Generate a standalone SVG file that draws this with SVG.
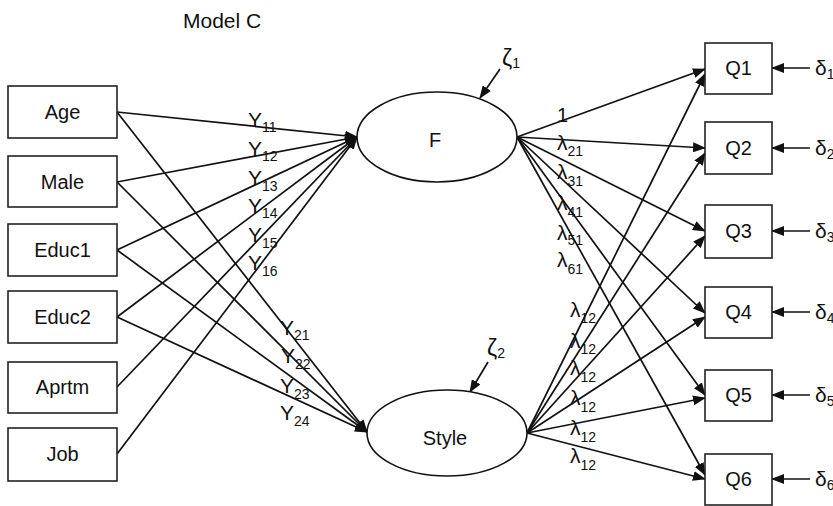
<svg xmlns="http://www.w3.org/2000/svg" width="833" height="506" viewBox="0 0 833 506">
<style>
text{font-family:"Liberation Sans",Arial,sans-serif;font-size:20px;fill:#111}
.box{fill:#fff;stroke:#222;stroke-width:1.6}
.ell{fill:#fff;stroke:#111;stroke-width:1.6}
.c line{stroke:#111;stroke-width:1.7;marker-end:url(#ah)}
.s{font-size:14px}
.lbl{font-size:21px}
.z{font-size:23px}
</style>
<defs>
<marker id="ah" markerUnits="userSpaceOnUse" markerWidth="13" markerHeight="10" refX="12" refY="5" orient="auto">
<path d="M0,0 L13,5 L0,10 Z" fill="#111"/>
</marker>
</defs>
<text x="183" y="28" style="font-size:21px">Model C</text>

<g class="c" id="connectors">
<line x1="117" y1="112" x2="357" y2="137"/>
<line x1="117" y1="182" x2="357" y2="137"/>
<line x1="117" y1="250" x2="357" y2="137"/>
<line x1="117" y1="317" x2="357" y2="137"/>
<line x1="117" y1="387" x2="357" y2="137"/>
<line x1="117" y1="454" x2="357" y2="137"/>
<line x1="117" y1="112" x2="367" y2="432"/>
<line x1="117" y1="182" x2="367" y2="432"/>
<line x1="117" y1="250" x2="367" y2="432"/>
<line x1="117" y1="317" x2="367" y2="432"/>
<line x1="517" y1="137" x2="705" y2="69"/>
<line x1="517" y1="137" x2="705" y2="148"/>
<line x1="517" y1="137" x2="705" y2="231"/>
<line x1="517" y1="137" x2="705" y2="313"/>
<line x1="517" y1="137" x2="705" y2="395"/>
<line x1="517" y1="137" x2="705" y2="475"/>
<line x1="527" y1="433" x2="705" y2="74"/>
<line x1="527" y1="433" x2="705" y2="153"/>
<line x1="527" y1="433" x2="705" y2="236"/>
<line x1="527" y1="433" x2="705" y2="317"/>
<line x1="527" y1="433" x2="705" y2="398"/>
<line x1="527" y1="433" x2="705" y2="479"/>
<line x1="500" y1="69" x2="480" y2="98"/>
<line x1="488" y1="362" x2="470" y2="392"/>
<line x1="810" y1="68" x2="772" y2="68"/>
<line x1="810" y1="148" x2="772" y2="148"/>
<line x1="810" y1="231" x2="772" y2="231"/>
<line x1="810" y1="312" x2="772" y2="312"/>
<line x1="810" y1="395" x2="772" y2="395"/>
<line x1="810" y1="479" x2="772" y2="479"/>
</g>

<g id="Age"><rect class="box" x="8" y="86" width="109" height="52"/><text x="62.5" y="119" text-anchor="middle">Age</text></g>
<g id="Male"><rect class="box" x="8" y="156" width="109" height="51"/><text x="62.5" y="189" text-anchor="middle">Male</text></g>
<g id="Educ1"><rect class="box" x="8" y="224" width="109" height="52"/><text x="62.5" y="257" text-anchor="middle">Educ1</text></g>
<g id="Educ2"><rect class="box" x="8" y="291" width="109" height="52"/><text x="62.5" y="324" text-anchor="middle">Educ2</text></g>
<g id="Aprtm"><rect class="box" x="8" y="362" width="109" height="51"/><text x="62.5" y="394" text-anchor="middle">Aprtm</text></g>
<g id="Job"><rect class="box" x="8" y="428" width="109" height="53"/><text x="62.5" y="461" text-anchor="middle">Job</text></g>

<g id="F"><ellipse class="ell" cx="437" cy="137" rx="80" ry="45"/><text x="435" y="147" text-anchor="middle">F</text></g>
<g id="Style"><ellipse class="ell" cx="447" cy="433" rx="80" ry="43"/><text x="445" y="445" text-anchor="middle">Style</text></g>

<g id="Q1"><rect class="box" x="705" y="43" width="67" height="51"/><text x="738.5" y="75" text-anchor="middle">Q1</text></g>
<g id="Q2"><rect class="box" x="705" y="122" width="67" height="52"/><text x="738.5" y="155" text-anchor="middle">Q2</text></g>
<g id="Q3"><rect class="box" x="705" y="205" width="67" height="53"/><text x="738.5" y="238" text-anchor="middle">Q3</text></g>
<g id="Q4"><rect class="box" x="705" y="287" width="67" height="51"/><text x="738.5" y="319" text-anchor="middle">Q4</text></g>
<g id="Q5"><rect class="box" x="705" y="370" width="67" height="51"/><text x="738.5" y="402" text-anchor="middle">Q5</text></g>
<g id="Q6"><rect class="box" x="705" y="454" width="67" height="51"/><text x="738.5" y="486" text-anchor="middle">Q6</text></g>

<g id="labels">
<text class="lbl" x="248" y="127">Y<tspan class="s" dy="5">11</tspan></text>
<text class="lbl" x="248" y="156">Y<tspan class="s" dy="5">12</tspan></text>
<text class="lbl" x="248" y="185">Y<tspan class="s" dy="6">13</tspan></text>
<text class="lbl" x="248" y="213">Y<tspan class="s" dy="5">14</tspan></text>
<text class="lbl" x="248" y="242">Y<tspan class="s" dy="6">15</tspan></text>
<text class="lbl" x="248" y="270">Y<tspan class="s" dy="6">16</tspan></text>
<text class="lbl" x="280" y="335">Y<tspan class="s" dy="5">21</tspan></text>
<text class="lbl" x="281" y="363">Y<tspan class="s" dy="6">22</tspan></text>
<text class="lbl" x="280" y="393">Y<tspan class="s" dy="6">23</tspan></text>
<text class="lbl" x="280" y="420">Y<tspan class="s" dy="6">24</tspan></text>

<text x="557" y="122">1</text>
<text class="lbl" x="557" y="150">λ<tspan class="s" dy="6">21</tspan></text>
<text class="lbl" x="557" y="179">λ<tspan class="s" dy="7">31</tspan></text>
<text class="lbl" x="557" y="210">λ<tspan class="s" dy="7">41</tspan></text>
<text class="lbl" x="557" y="240">λ<tspan class="s" dy="5">51</tspan></text>
<text class="lbl" x="557" y="267">λ<tspan class="s" dy="7">61</tspan></text>

<text class="lbl" x="570" y="317">λ<tspan class="s" dy="6">12</tspan></text>
<text class="lbl" x="570" y="348">λ<tspan class="s" dy="6">12</tspan></text>
<text class="lbl" x="570" y="375">λ<tspan class="s" dy="7">12</tspan></text>
<text class="lbl" x="570" y="405">λ<tspan class="s" dy="7">12</tspan></text>
<text class="lbl" x="570" y="435">λ<tspan class="s" dy="7">12</tspan></text>
<text class="lbl" x="570" y="463">λ<tspan class="s" dy="7">12</tspan></text>

<text class="z" x="502" y="66">ζ<tspan class="s" dy="2">1</tspan></text>
<text class="z" x="487" y="356">ζ<tspan class="s" dy="2">2</tspan></text>

<text class="lbl" x="815" y="75">δ<tspan class="s" dy="4">1</tspan></text>
<text class="lbl" x="815" y="155">δ<tspan class="s" dy="4">2</tspan></text>
<text class="lbl" x="815" y="238">δ<tspan class="s" dy="4">3</tspan></text>
<text class="lbl" x="815" y="319">δ<tspan class="s" dy="4">4</tspan></text>
<text class="lbl" x="815" y="402">δ<tspan class="s" dy="4">5</tspan></text>
<text class="lbl" x="815" y="486">δ<tspan class="s" dy="4">6</tspan></text>
</g>
</svg>
